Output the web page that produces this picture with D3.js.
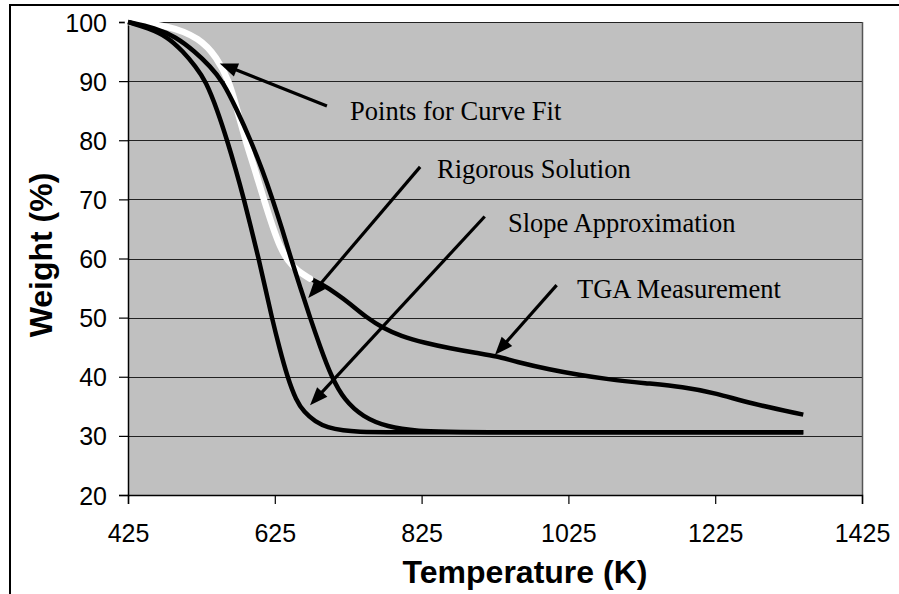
<!DOCTYPE html>
<html>
<head>
<meta charset="utf-8">
<script src="https://cdn.jsdelivr.net/npm/d3@7"></script>
<style>
  html, body { margin: 0; padding: 0; background: #fff; }
  svg { display: block; }
</style>
</head>
<body>
<svg id="chart" width="899" height="594"></svg>
<script>
// Axis ticks
const xTicks = [425, 625, 825, 1025, 1225, 1425];
const yTicks = [20, 30, 40, 50, 60, 70, 80, 90, 100];

// TGA measurement (K, weight %)
const tgaTemp   = [425, 478, 523, 546, 563, 574, 585, 598, 610, 623, 632, 643, 657, 673, 687, 710, 727, 750, 773, 796, 830, 864, 900, 927, 954, 1000, 1040, 1077, 1130, 1181, 1227, 1272, 1345];
const tgaWeight = [100, 99.5, 97.3, 94, 90, 85, 80, 75, 70, 65, 62, 59.5, 57.8, 56.6, 55.8, 54, 52.4, 50, 48.2, 46.9, 45.7, 44.8, 44, 43.5, 42.5, 41.2, 40.3, 39.6, 38.9, 38.3, 37.2, 35.5, 33.6];

// Points used for the curve fit (first part of the TGA run)
const fitTemp   = [425, 478, 523, 546, 563, 574, 585, 598, 610, 623, 632, 643, 657, 673];
const fitWeight = [100, 99.5, 97.3, 94, 90, 85, 80, 75, 70, 65, 62, 59.5, 57.8, 56.6];

// Rigorous solution
const rigorousTemp   = [425, 462, 490, 516, 537, 554, 574, 592, 608, 622, 635, 647, 660, 673, 687, 702, 720, 745, 778, 820, 870, 1345];
const rigorousWeight = [100, 99, 97.5, 95, 92.5, 90, 85, 80, 75, 70, 65, 60, 55, 50, 45, 40, 36, 33.2, 31.5, 30.8, 30.6, 30.6];

// Slope approximation
const slopeTemp   = [425, 452, 479, 500, 517, 531, 547, 560, 572, 583, 593, 603, 612, 621, 631, 642, 654, 665, 680, 697, 718, 740, 770, 1345];
const slopeWeight = [100, 99, 97.5, 95, 92.5, 90, 85, 80, 75, 70, 65, 60, 55, 50, 45, 40, 36, 34, 32.4, 31.4, 30.9, 30.7, 30.6, 30.6];

// Callouts: label anchor and arrow (tail -> head), all in data units
const calloutText = ["Points for Curve Fit", "Rigorous Solution", "Slope Approximation", "TGA Measurement"];
const calloutLabelT = [727.5, 846, 942.7, 1036.7];
const calloutLabelW = [83.4, 73.6, 64.5, 53.3];
const arrowFromT = [696, 823, 911, 1009];
const arrowFromW = [85.8, 75.5, 67.1, 55.5];
const arrowToT   = [550, 670.6, 673, 925];
const arrowToW   = [93.0, 53.3, 35.2, 43.7];

const svg = d3.select("#chart");
const plot = { left: 128, right: 862, top: 22, bottom: 495 };

const x = d3.scaleLinear().domain([425, 1425]).range([plot.left, plot.right]);
const y = d3.scaleLinear().domain([20, 100]).range([plot.bottom, plot.top]);

const sans = "'Liberation Sans', Arial, Helvetica, sans-serif";
const serif = "'Liberation Serif', 'Times New Roman', Times, serif";

// Outer chart frame (runs past the right and bottom edges)
svg.append("rect")
  .attr("x", 10).attr("y", 5)
  .attr("width", 1000).attr("height", 700)
  .attr("fill", "none").attr("stroke", "#000").attr("stroke-width", 2);

// Plot background
svg.append("rect")
  .attr("x", plot.left).attr("y", plot.top)
  .attr("width", plot.right - plot.left).attr("height", plot.bottom - plot.top)
  .attr("fill", "#c0c0c0");

// Horizontal gridlines
svg.append("g")
  .selectAll("line")
  .data(yTicks.filter(d => d > 20))
  .join("line")
  .attr("x1", plot.left).attr("x2", plot.right)
  .attr("y1", d => Math.round(y(d)) + 0.5).attr("y2", d => Math.round(y(d)) + 0.5)
  .attr("stroke", "#222").attr("stroke-width", 1.2);

// Right edge of plot area
svg.append("line")
  .attr("x1", plot.right + 0.5).attr("x2", plot.right + 0.5)
  .attr("y1", plot.top).attr("y2", plot.bottom)
  .attr("stroke", "#555").attr("stroke-width", 1.5);

// Axes
const xAxis = d3.axisBottom(x).tickValues(xTicks).tickSize(9).tickPadding(20).tickFormat(d3.format("d"));
const yAxis = d3.axisLeft(y).tickValues(yTicks).tickSize(9).tickPadding(12).tickFormat(d3.format("d"));

const gx = svg.append("g").attr("transform", `translate(0,${plot.bottom})`).call(xAxis);
const gy = svg.append("g").attr("transform", `translate(${plot.left},0)`).call(yAxis);

[gx, gy].forEach(g => {
  g.select(".domain").attr("stroke", "#000").attr("stroke-width", 1.5);
  g.selectAll(".tick line").attr("stroke", "#000").attr("stroke-width", 1.2);
  g.selectAll(".tick text")
    .attr("fill", "#000")
    .style("font-family", sans)
    .style("font-size", "25px");
});
gy.selectAll(".tick text").attr("dy", "0.36em");

// Axis titles
svg.append("text")
  .attr("x", 525).attr("y", 583)
  .attr("text-anchor", "middle")
  .style("font-family", sans).style("font-size", "32px").style("font-weight", "bold")
  .text("Temperature (K)");

svg.append("text")
  .attr("transform", "translate(52,255) rotate(-90)")
  .attr("text-anchor", "middle")
  .style("font-family", sans).style("font-size", "32px").style("font-weight", "bold")
  .text("Weight (%)");

// Curves (B-spline smoothing through the sampled points)
const line = d3.line()
  .x(d => x(d[0]))
  .y(d => y(d[1]))
  .curve(d3.curveBasis);

const zip = (a, b) => a.map((v, i) => [v, b[i]]);

const curves = svg.append("g");

curves.append("path")
  .datum(zip(tgaTemp, tgaWeight))
  .attr("d", line)
  .attr("fill", "none").attr("stroke", "#000").attr("stroke-width", 4.5)
  .attr("stroke-linejoin", "round");

curves.append("path")
  .datum(zip(fitTemp, fitWeight))
  .attr("d", line)
  .attr("fill", "none").attr("stroke", "#fff").attr("stroke-width", 6.5)
  .attr("stroke-linecap", "round").attr("stroke-linejoin", "round");

curves.append("path")
  .datum(zip(rigorousTemp, rigorousWeight))
  .attr("d", line)
  .attr("fill", "none").attr("stroke", "#000").attr("stroke-width", 4.5)
  .attr("stroke-linejoin", "round");

curves.append("path")
  .datum(zip(slopeTemp, slopeWeight))
  .attr("d", line)
  .attr("fill", "none").attr("stroke", "#000").attr("stroke-width", 4.5)
  .attr("stroke-linejoin", "round");

// Callout arrows and labels
const callouts = svg.append("g");
const headLen = 18, headHalf = 7;

calloutText.forEach((txt, i) => {
  const x0 = x(arrowFromT[i]), y0 = y(arrowFromW[i]);
  const x1 = x(arrowToT[i]), y1 = y(arrowToW[i]);
  const dx = x1 - x0, dy = y1 - y0;
  const len = Math.hypot(dx, dy);
  const ux = dx / len, uy = dy / len;
  const bx = x1 - ux * headLen, by = y1 - uy * headLen;

  callouts.append("line")
    .attr("x1", x0).attr("y1", y0)
    .attr("x2", bx + ux * 2).attr("y2", by + uy * 2)
    .attr("stroke", "#000").attr("stroke-width", 3.2);

  callouts.append("path")
    .attr("d", `M${x1},${y1} L${bx - uy * headHalf},${by + ux * headHalf} L${bx + uy * headHalf},${by - ux * headHalf} Z`)
    .attr("fill", "#000");

  callouts.append("text")
    .attr("x", x(calloutLabelT[i])).attr("y", y(calloutLabelW[i]))
    .style("font-family", serif).style("font-size", "26.5px")
    .attr("fill", "#000")
    .text(txt);
});
</script>
</body>
</html>
